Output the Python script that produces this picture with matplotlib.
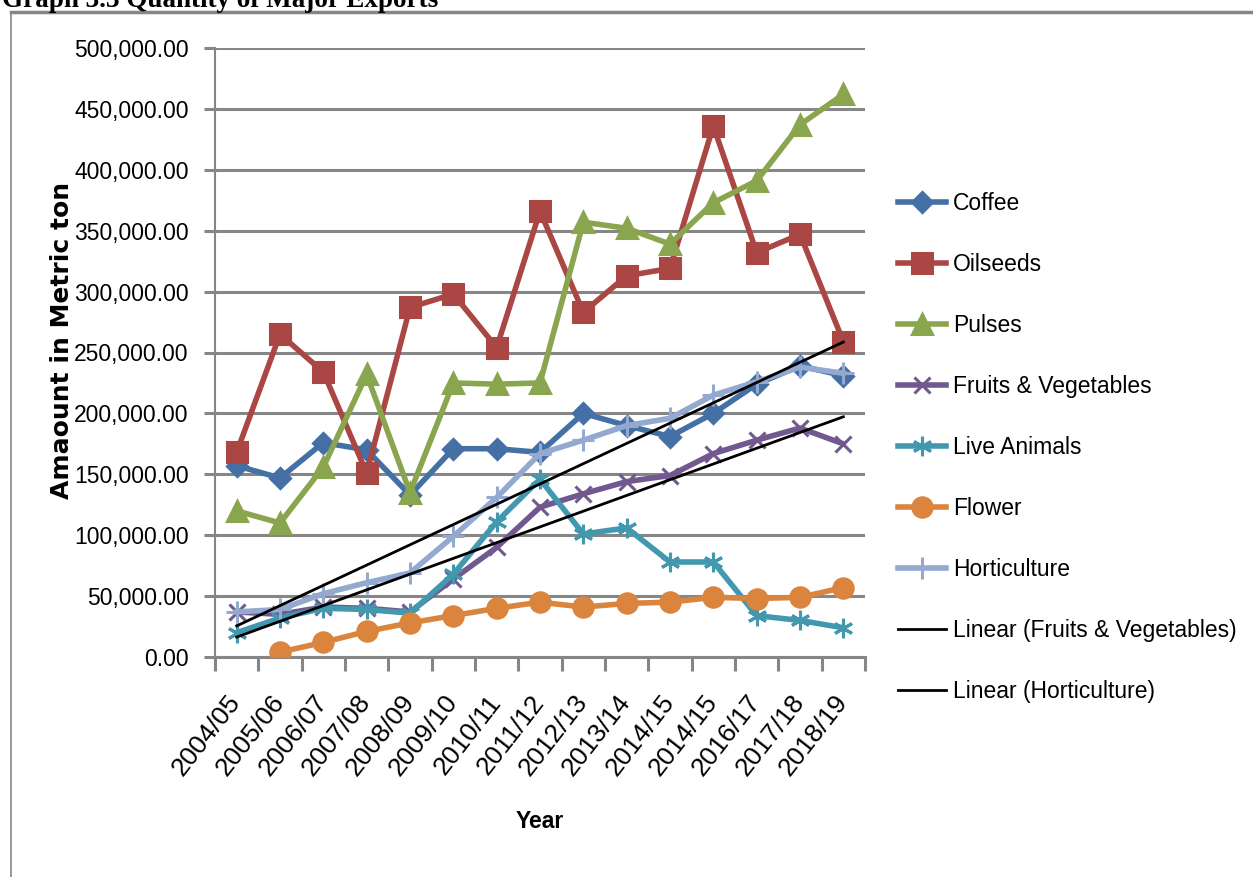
import matplotlib.pyplot as plt
import numpy as np
from matplotlib.ticker import FuncFormatter, FixedLocator
import matplotlib.transforms as mtransforms

# Daten (Metric ton)
years = ["2004/05", "2005/06", "2006/07", "2007/08", "2008/09", "2009/10", "2010/11",
         "2011/12", "2012/13", "2013/14", "2014/15", "2014/15", "2016/17", "2017/18", "2018/19"]

coffee = [157000, 147000, 176000, 170000, 133000, 171000, 171000, 168000,
          200000, 190000, 181000, 200000, 224000, 239000, 231000]
oilseeds = [168000, 265000, 234000, 151000, 287000, 298000, 254000, 366000,
            283000, 313000, 319000, 436000, 332000, 347000, 259000]
pulses = [120000, 110000, 156000, 232000, 135000, 225000, 224000, 225000,
          357000, 352000, 339000, 373000, 391000, 437000, 462000]
fruits_veg = [37000, 35000, 41000, 40000, 37000, 64000, 90000, 123000,
              134000, 144000, 149000, 167000, 178000, 188000, 175000]
live_animals = [20000, 32000, 40000, 39000, 36000, 68000, 111000, 146000,
                101000, 106000, 78000, 78000, 34000, 30000, 24000]
flower = [np.nan, 4000, 12000, 21000, 28000, 34000, 40000, 45000,
          41000, 44000, 45000, 49000, 48000, 49000, 57000]
horticulture = [37000, 39000, 52000, 61000, 69000, 99000, 131000, 167000,
                178000, 190000, 196000, 215000, 226000, 238000, 233000]

series = [
    ("Coffee", coffee, "#4470A6", "D", 10),
    ("Oilseeds", oilseeds, "#AA4643", "s", 14),
    ("Pulses", pulses, "#89A54E", "^", 14),
    ("Fruits & Vegetables", fruits_veg, "#71588F", "x", 12),
    ("Live Animals", live_animals, "#4198AF", (6, 2, 0), 14),
    ("Flower", flower, "#DB843D", "o", 14),
    ("Horticulture", horticulture, "#93A9CF", "+", 16),
]

sans = ["Liberation Sans", "DejaVu Sans"]

fig = plt.figure(figsize=(12.53, 8.77), dpi=100)
ax = fig.add_axes([215 / 1253, 1 - 657 / 877, 650 / 1253, 609 / 877])

x = np.arange(len(years))
handles = []
for name, vals, col, mk, ms in series:
    filled = mk in ("D", "s", "^", "o")
    h, = ax.plot(x, vals, color=col, lw=4, marker=mk, ms=ms,
                 mfc=col if filled else "none", mec=col, mew=2.2,
                 label=name, zorder=3)
    handles.append(h)

# Lineare Trendlinien
for vals, name in [(fruits_veg, "Linear (Fruits & Vegetables)"),
                   (horticulture, "Linear (Horticulture)")]:
    k, d = np.polyfit(x, vals, 1)
    h, = ax.plot(x, k * x + d, color="black", lw=2, label=name, zorder=4)
    handles.append(h)

ax.set_xlim(-0.5, len(years) - 0.5)
ax.set_ylim(0, 500000)
ax.set_yticks(np.arange(0, 500001, 50000))
ax.yaxis.set_major_formatter(FuncFormatter(lambda v, p: f"{v:,.2f}"))
ax.grid(axis="y", color="#868686", lw=2.2)
ax.set_axisbelow(True)

ax.set_xticks(x)
ax.set_xticklabels(years, rotation=52, ha="right", va="top",
                   rotation_mode="anchor", fontsize=19, family=sans)
ax.xaxis.set_minor_locator(FixedLocator(np.arange(-0.5, len(years), 1)))
ax.tick_params(axis="x", which="major", length=0, pad=24)
ax.tick_params(axis="x", which="minor", length=10, width=2.2, color="#868686")
ax.tick_params(axis="y", length=8, width=2.2, color="#868686", pad=11)
for lab in ax.get_xticklabels():
    lab.set_transform(lab.get_transform() + mtransforms.ScaledTranslation(-0.1, 0, fig.dpi_scale_trans))
for lab in ax.get_yticklabels():
    lab.set_fontsize(16.5)
    lab.set_family(sans)

for s in ["top", "right"]:
    ax.spines[s].set_visible(False)
ax.spines["left"].set_color("#868686")
ax.spines["left"].set_linewidth(1.5)
ax.spines["bottom"].set_color("#868686")
ax.spines["bottom"].set_linewidth(2.2)

fig.text(62 / 1253, 1 - 340 / 877, "Amaount in Metric ton", rotation=90,
         ha="center", va="center", fontsize=18, fontweight="bold", family="DejaVu Sans")
fig.text(540 / 1253, 1 - 822 / 877, "Year", ha="center", va="center",
         fontsize=16.5, fontweight="bold", family=sans)

fig.text(2 / 1253, 1 - 7 / 877, "Graph 3.3 Quantity of Major Exports", ha="left",
         va="baseline", fontsize=19.5, fontweight="bold", family="Liberation Serif")

# Rahmen um den Diagrammbereich
fig.add_artist(plt.Line2D([11 / 1253, 1], [1 - 12 / 877, 1 - 12 / 877],
                          color="#868686", lw=2.5, transform=fig.transFigure))
fig.add_artist(plt.Line2D([11 / 1253, 11 / 1253], [0, 1 - 12 / 877],
                          color="#868686", lw=1.2, transform=fig.transFigure))

leg = fig.legend(handles=handles, loc="upper left",
                 bbox_to_anchor=(898 / 1253, 1 - 192 / 877),
                 frameon=False, prop={"family": sans, "size": 16.5},
                 handlelength=2.1, handletextpad=0.3, labelspacing=1.66,
                 borderaxespad=0, borderpad=0)

fig.savefig("out.png", dpi=100)
